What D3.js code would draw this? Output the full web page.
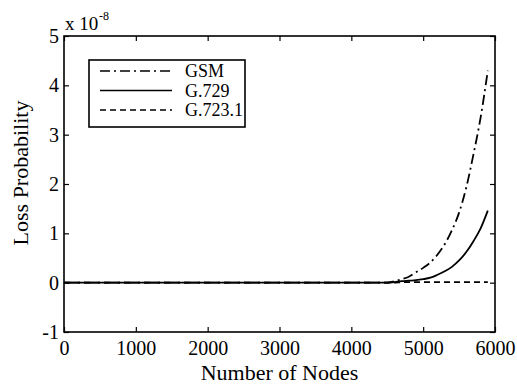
<!DOCTYPE html>
<html>
<head>
<meta charset="utf-8">
<script src="https://cdn.jsdelivr.net/npm/d3@7"></script>
<style>
  body { margin: 0; background: #fff; }
  text { font-family: "Liberation Serif", "Times New Roman", serif; fill: #000; }
</style>
</head>
<body>
<div id="chart"></div>
<script>
// Data (loss probability in units of 1e-8)
const nodes  = [0, 1000, 2000, 3000, 4000, 4500, 4600, 4700, 4800, 4900, 5000, 5100, 5200, 5300, 5400, 5500, 5600, 5700, 5800, 5900];
const gsm    = [0, 0, 0, 0, 0, 0, 0.03, 0.07, 0.12, 0.21, 0.3, 0.41, 0.57, 0.78, 1.06, 1.42, 1.93, 2.6, 3.35, 4.3];
const g729   = [0, 0, 0, 0, 0, 0, 0.01, 0.03, 0.04, 0.05, 0.07, 0.1, 0.16, 0.23, 0.32, 0.45, 0.62, 0.84, 1.1, 1.46];
const g7231  = [0, 0, 0, 0, 0, 0, 0, 0.01, 0.01, 0.01, 0.01, 0.01, 0.01, 0.01, 0.01, 0.01, 0.01, 0.01, 0.01, 0.01];
const seriesNames = ["GSM", "G.729", "G.723.1"];
const xTicks = [0, 1000, 2000, 3000, 4000, 5000, 6000];
const yTicks = [-1, 0, 1, 2, 3, 4, 5];

let width = 517, height = 385;
let margin = { top: 36, bottom: 53, left: 64, right: 22 };

let svg = d3.select('#chart')
    .append('svg')
    .attr('width', width)
    .attr('height', height);

const xScale = d3.scaleLinear()
    .domain([0, 6000])
    .range([margin.left, width - margin.right]);

const yScale = d3.scaleLinear()
    .domain([-1, 5])
    .range([height - margin.bottom, margin.top]);

// Axes with inward ticks (box style)
function styleAxis(g) {
    g.select('.domain').remove();
    g.selectAll('line').attr('stroke', '#000').attr('stroke-width', 1.2);
    g.selectAll('text').style('font-size', '20px').attr('fill', '#000');
}

svg.append('g')
    .attr('transform', `translate(0,${height - margin.bottom})`)
    .call(d3.axisBottom(xScale).tickValues(xTicks).tickSize(-5).tickPadding(9).tickFormat(d => String(d)))
    .call(styleAxis);

svg.append('g')
    .attr('transform', `translate(0,${margin.top})`)
    .call(d3.axisTop(xScale).tickValues(xTicks).tickSize(-5).tickFormat(''))
    .call(styleAxis);

svg.append('g')
    .attr('transform', `translate(${margin.left},0)`)
    .call(d3.axisLeft(yScale).tickValues(yTicks).tickSize(-5).tickPadding(5).tickFormat(d => String(d)))
    .call(styleAxis);

svg.append('g')
    .attr('transform', `translate(${width - margin.right},0)`)
    .call(d3.axisRight(yScale).tickValues(yTicks).tickSize(-5).tickFormat(''))
    .call(styleAxis);

// Box
svg.append('rect')
    .attr('x', margin.left)
    .attr('y', margin.top)
    .attr('width', width - margin.left - margin.right)
    .attr('height', height - margin.top - margin.bottom)
    .attr('fill', 'none')
    .attr('stroke', '#000')
    .attr('stroke-width', 1.6);

// Lines
const dashes = ["10,4,2,4", null, "6,4"];
const allSeries = [gsm, g729, g7231];

let line = d3.line()
    .x((d, i) => xScale(nodes[i]))
    .y(d => yScale(d))
    .curve(d3.curveMonotoneX);

allSeries.forEach((vals, k) => {
    svg.append('path')
        .datum(vals)
        .attr('d', line)
        .attr('fill', 'none')
        .attr('stroke', '#000')
        .attr('stroke-width', 1.8)
        .attr('stroke-dasharray', dashes[k]);
});

// Exponent label
svg.append('text')
    .attr('x', 65)
    .attr('y', 30)
    .style('font-size', '19px')
    .text('x 10');
svg.append('text')
    .attr('x', 99)
    .attr('y', 20)
    .style('font-size', '12px')
    .text('-8');

// Axis titles
svg.append('text')
    .attr('x', (margin.left + width - margin.right) / 2)
    .attr('y', 380)
    .attr('text-anchor', 'middle')
    .style('font-size', '22px')
    .text('Number of Nodes');

svg.append('text')
    .attr('transform', 'rotate(-90)')
    .attr('x', -173)
    .attr('y', 28)
    .attr('text-anchor', 'middle')
    .style('font-size', '22px')
    .text('Loss Probability');

// Legend
const legend = svg.append('g');
legend.append('rect')
    .attr('x', 89)
    .attr('y', 60)
    .attr('width', 156)
    .attr('height', 67)
    .attr('fill', '#fff')
    .attr('stroke', '#000')
    .attr('stroke-width', 1.6);

seriesNames.forEach((name, i) => {
    const y = 71 + i * 19.5;
    legend.append('line')
        .attr('x1', 100)
        .attr('x2', 172)
        .attr('y1', y)
        .attr('y2', y)
        .attr('stroke', '#000')
        .attr('stroke-width', 1.7)
        .attr('stroke-dasharray', dashes[i]);
    legend.append('text')
        .attr('x', 185)
        .attr('y', y + 6)
        .style('font-size', '18px')
        .text(name);
});
</script>
</body>
</html>
